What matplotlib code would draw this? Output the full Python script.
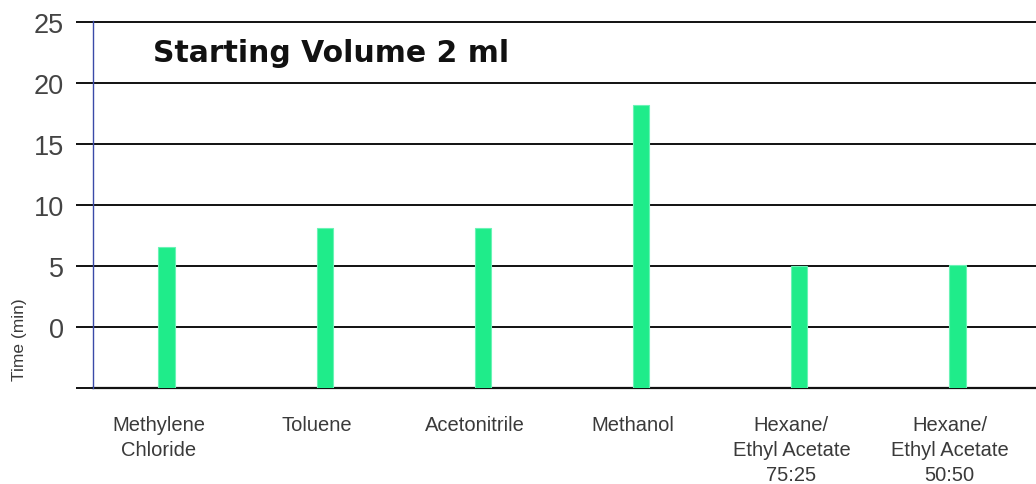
import matplotlib
matplotlib.use('Agg')
import matplotlib.pyplot as plt
import numpy as np

# drying time per solvent (min)
solvents = ['Methylene\nChloride', 'Toluene', 'Acetonitrile', 'Methanol',
            'Hexane/\nEthyl Acetate\n75:25', 'Hexane/\nEthyl Acetate\n50:50']
times = [6.5, 8.05, 8.1, 18.2, 5.0, 5.05]
yticks = [-5, 0, 5, 10, 15, 20, 25]
yticklabels = ['', '0', '5', '10', '15', '20', '25']

plt.rcParams['font.family'] = ['Liberation Sans', 'DejaVu Sans']

fig = plt.figure(figsize=(10.36, 4.85), dpi=100)
ax = fig.add_axes([93/1036, 1 - 388.5/485, 943/1036, 366.5/485])

x = np.arange(len(solvents))
ymin = -5
ax.bar(x, np.array(times) - ymin, bottom=ymin, width=0.102,
       color='#1fec8a', edgecolor='#6af3b6', linewidth=0.8, zorder=3)

ax.set_xlim(-0.465, 5.496)
ax.set_ylim(ymin, 25.08)

ax.set_yticks(yticks)
ax.set_yticklabels(yticklabels, fontsize=19.5, color='#444444')
ax.yaxis.grid(True, color='#111111', linewidth=1.4, zorder=1)
ax.tick_params(axis='y', length=12, width=1.4, color='#111111', pad=9)

ax.set_xticks(x - 0.05)
ax.set_xticklabels(solvents, fontsize=14.5, color='#3a3a3a',
                   linespacing=1.38, va='top')
ax.tick_params(axis='x', length=0, pad=20)

for side in ['top', 'right']:
    ax.spines[side].set_visible(False)
ax.spines['bottom'].set_color('#111111')
ax.spines['bottom'].set_linewidth(1.6)
ax.spines['left'].set_color('#3a4aa8')
ax.spines['left'].set_linewidth(1.0)
ax.spines['left'].set_zorder(4)

fig.text(20/1036, 1 - 340/485, 'Time (min)', rotation=90, ha='center', va='center',
         fontsize=12.5, color='#3a3a3a')
fig.text(153/1036, 1 - 62/485, 'Starting Volume 2 ml', ha='left', va='baseline',
         fontsize=21.5, fontweight='bold', family=['DejaVu Sans'], color='#111111')

fig.savefig('out.png', dpi=100)
